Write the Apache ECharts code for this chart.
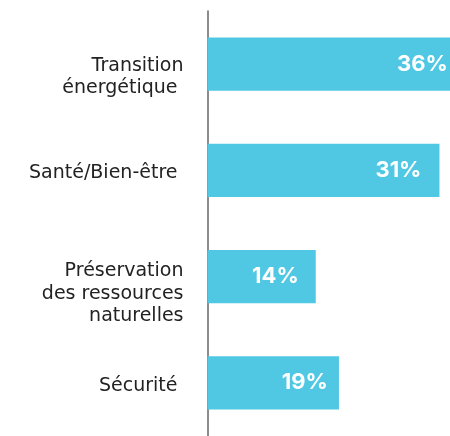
<!DOCTYPE html>
<html>
<head>
<meta charset="utf-8">
<script src="https://cdn.jsdelivr.net/npm/echarts@6/dist/echarts.min.js"></script>
<style>html,body{margin:0;padding:0;background:#fff}#c{width:450px;height:436px}</style>
</head>
<body>
<div id="c"></div>
<script>
var categories = ['Transition\nénergétique ', 'Santé/Bien-être ', 'Préservation\ndes ressources\nnaturelles', 'Sécurité '];
var shareLabels = ['36%', '31%', '14%', '19%'];
var barLengths = [36.6, 33.0, 15.4, 18.7];

var labelSpacer = [26, 6, 34, 6];
var labelGap = [17, 18, 17, 11];

var rich = {t: {fontSize: 19, lineHeight: 22.5, color: '#222', fontFamily: 'DejaVu Sans', align: 'right'}};
labelSpacer.forEach(function (h, i) {
  rich['s' + i] = {fontSize: 1, lineHeight: h, align: 'right'};
});

var chart = echarts.init(document.getElementById('c'), null, {renderer: 'canvas'});
chart.setOption({
  animation: false,
  grid: {left: 207.5, top: 11, right: 0, height: 429, containLabel: false},
  xAxis: {type: 'value', min: 0, max: 34.5, show: false},
  yAxis: {
    type: 'category',
    inverse: true,
    data: categories,
    axisLine: {lineStyle: {color: '#666', width: 1.5}},
    axisTick: {length: 4, lineStyle: {color: '#666', width: 1.5}},
    axisLabel: {
      margin: 24, color: '#222', fontSize: 19, fontFamily: 'DejaVu Sans', align: 'right',
      formatter: function (value, index) {
        return '{s' + index + '| }\n' + value.split('\n').map(function (l) {
          return '{t|' + l + '}';
        }).join('\n');
      },
      rich: rich
    },
    splitLine: {show: false}
  },
  series: [{
    type: 'bar',
    barWidth: '50%',
    clip: false,
    itemStyle: {color: '#50C8E3'},
    data: barLengths.map(function (v, i) {
      return {value: v, label: {formatter: shareLabels[i], distance: labelGap[i]}};
    }),
    label: {
      show: true, position: 'insideRight', color: '#fff',
      fontSize: 22, fontWeight: 'bold', fontFamily: 'Inter'
    }
  }]
});
</script>
</body>
</html>
